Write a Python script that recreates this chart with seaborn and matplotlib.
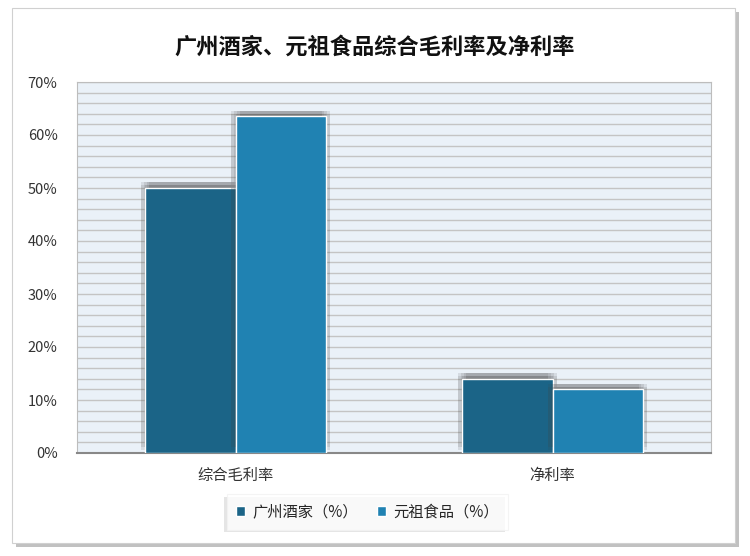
import numpy as np
import pandas as pd
import matplotlib
matplotlib.use("Agg")
import matplotlib.pyplot as plt
import matplotlib.patheffects as pe
from matplotlib.patches import Rectangle, Patch
import seaborn as sns

categories = ['综合毛利率', '净利率']
companies = ['广州酒家（%）', '元祖食品（%）']
gzjj = [50.0, 14.0]
yzsp = [63.5, 12.0]
title = '广州酒家、元祖食品综合毛利率及净利率'

df = pd.DataFrame({
    'cat': categories * 2,
    'company': [companies[0]] * 2 + [companies[1]] * 2,
    'value': gzjj + yzsp,
})

sns.set_style('white')
plt.rcParams['font.family'] = ['Noto Sans CJK SC', 'DejaVu Sans']

fig = plt.figure(figsize=(7.5, 5.56), dpi=100)

# outer frame with shadow
frame = Rectangle((12 / 750, 1 - 543 / 556), (735 - 12) / 750, (543 - 8) / 556,
                  transform=fig.transFigure, facecolor='white', edgecolor='#d0d0d0',
                  linewidth=0.8, zorder=-5,
                  path_effects=[pe.SimplePatchShadow(offset=(3, -3), shadow_rgbFace='#999999', alpha=0.6),
                                pe.Normal()])
fig.patches.append(frame)

ax = fig.add_axes([77 / 750, 1 - 453 / 556, (711 - 77) / 750, (453 - 82) / 556])
ax.set_facecolor('#EAF1F8')

palette = ['#1B6487', '#2082B2']
sns.barplot(data=df, x='cat', y='value', hue='company', palette=palette, ax=ax,
            width=0.57, saturation=1, edgecolor='white', linewidth=1, zorder=3, legend=False)

# soft shadow: a few stacked offsets
shadow = [pe.SimplePatchShadow(offset=(dx, dy), shadow_rgbFace='#444444', alpha=0.12)
          for dx, dy in [(-3, 4), (-1, 4), (1, 4), (3, 4), (3, 2), (-3, 2), (0, 2)]]
for p in ax.patches:
    p.set_path_effects(shadow + [pe.Normal()])

ax.set_ylim(0, 70)
ax.set_yticks(np.arange(0, 71, 10))
ax.set_yticklabels([f'{v}%' for v in range(0, 71, 10)])
ax.set_yticks(np.arange(0, 71, 2), minor=True)
ax.yaxis.grid(True, which='both', color='#C4C4C4', linewidth=1)
ax.set_axisbelow(True)
ax.tick_params(axis='y', which='both', length=0, labelsize=10.5, colors='#333333', pad=14)
ax.tick_params(axis='x', length=0, labelsize=11, colors='#333333', pad=10)
ax.set_xlabel('')
ax.set_ylabel('')
for s in ['top', 'right', 'left']:
    ax.spines[s].set_color('#BDBDBD')
ax.spines['bottom'].set_color('#888888')
ax.spines['bottom'].set_linewidth(1.5)

fig.text(0.5, 1 - 47 / 556, title, ha='center', va='center', fontsize=16, fontweight='bold', color='#111111')

handles = [Patch(facecolor=c) for c in palette]
leg = fig.legend(handles, companies, loc='center', bbox_to_anchor=(0.49, 1 - 512 / 556), ncol=2,
                 frameon=True, fontsize=11, handlelength=0.6, handleheight=0.6,
                 columnspacing=1.2, handletextpad=0.5, fancybox=False, borderpad=0.6)
leg.get_frame().set_edgecolor('#f2f2f2')
leg.get_frame().set_linewidth(0.8)
leg.get_frame().set_path_effects([pe.SimplePatchShadow(offset=(-2, -2), shadow_rgbFace='#cccccc', alpha=0.5),
                                  pe.Normal()])

fig.savefig('out.png', dpi=100)
